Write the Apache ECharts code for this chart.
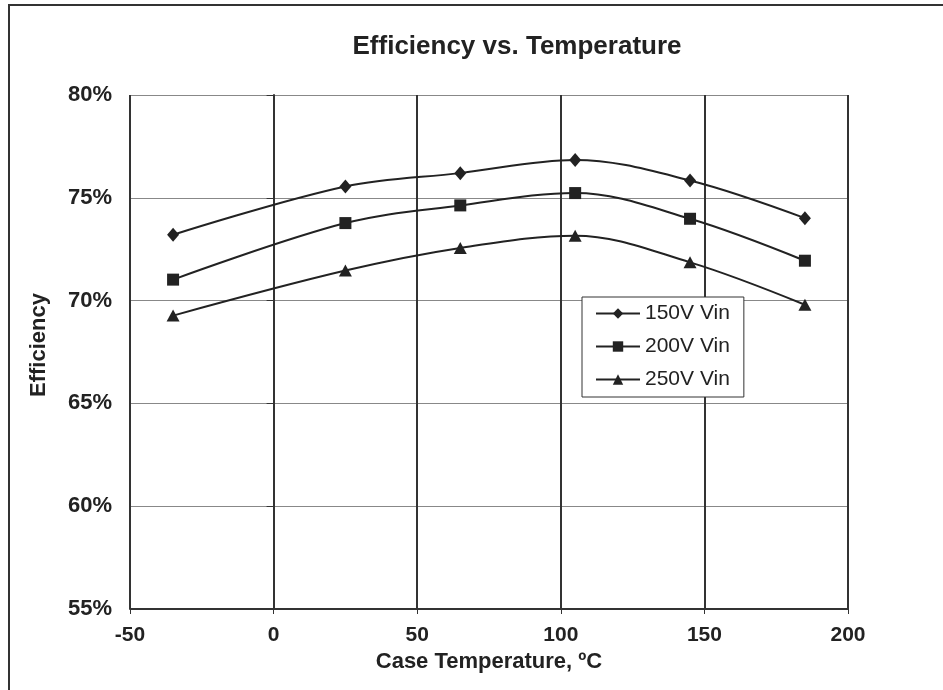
<!DOCTYPE html>
<html>
<head>
<meta charset="utf-8">
<script src="https://cdn.jsdelivr.net/npm/echarts@6/dist/echarts.min.js"></script>
<style>html,body{margin:0;padding:0;background:#fff;}#c{width:943px;height:690px;}</style>
</head>
<body>
<div id="c"></div>
<script>
var temps = [-35, 25, 65, 105, 145, 185];
var v150 = [73.2, 75.55, 76.2, 76.84, 75.84, 74.01];
var v200 = [71.02, 73.77, 74.63, 75.23, 73.98, 71.94];
var v250 = [69.27, 71.46, 72.56, 73.16, 71.86, 69.8];
var seriesNames = ['150V Vin', '200V Vin', '250V Vin'];
var symbols = ['diamond', 'rect', 'triangle'];
var symbolSizes = [[12, 14], 12, [13, 12]];

function pairs(ys){ return temps.map(function(t,i){ return [t, ys[i]]; }); }
var allVals = [v150, v200, v250];

var chart = echarts.init(document.getElementById('c'));
var font = 'Liberation Sans, Arial, sans-serif';
chart.setOption({
  backgroundColor: '#fff',
  animation: false,
  title: {
    text: 'Efficiency vs. Temperature',
    left: 512, top: 29, textAlign: 'center',
    textStyle: { fontFamily: font, fontSize: 26, fontWeight: 'bold', color: '#222' }
  },
  graphic: [{
    type: 'rect', shape: { x: 9, y: 5, width: 1000, height: 1000 },
    style: { fill: 'none', stroke: '#333', lineWidth: 2 }, silent: true, z: -1
  }],
  grid: { left: 130, right: 95, top: 95, bottom: 81 },
  legend: {
    orient: 'vertical', left: 582, top: 297,
    data: seriesNames,
    backgroundColor: '#fff', borderColor: '#333', borderWidth: 1,
    padding: [6, 14, 7, 13], itemGap: 12, itemWidth: 44, itemHeight: 13,
    textStyle: { fontFamily: font, fontSize: 21, color: '#222' }
  },
  xAxis: {
    type: 'value', min: -50, max: 200, interval: 50,
    name: 'Case Temperature, ºC', nameLocation: 'middle', nameGap: 37,
    nameTextStyle: { fontFamily: font, fontSize: 22, fontWeight: 'bold', color: '#222' },
    axisLine: { lineStyle: { color: '#333', width: 2 } },
    axisTick: { show: true, inside: false, length: 5, lineStyle: { color: '#333' } },
    axisLabel: { fontFamily: font, fontSize: 21, fontWeight: 'bold', color: '#222', margin: 16 },
    splitLine: { show: true, lineStyle: { color: '#333', width: 2 } }
  },
  yAxis: {
    type: 'value', min: 55, max: 80, interval: 5,
    name: 'Efficiency', nameLocation: 'middle', nameGap: 80, nameRotate: 90,
    nameTextStyle: { fontFamily: font, fontSize: 22, fontWeight: 'bold', color: '#222', padding: [0, 0, 0, 14] },
    axisLine: { show: true, lineStyle: { color: '#333', width: 2 } },
    axisTick: { show: true, length: 7, lineStyle: { color: '#333' } },
    axisLabel: { fontFamily: font, fontSize: 22, fontWeight: 'bold', color: '#222', margin: 18,
      formatter: function(v){ return v + '%'; } },
    splitLine: { show: true, lineStyle: { color: '#888', width: 1 } }
  },
  series: seriesNames.map(function(n, i){
    return {
      name: n, type: 'line', data: pairs(allVals[i]), smooth: 0.35,
      symbol: symbols[i], symbolSize: symbolSizes[i],
      lineStyle: { color: '#222', width: 2 },
      itemStyle: { color: '#222' }
    };
  })
});
</script>
</body>
</html>
